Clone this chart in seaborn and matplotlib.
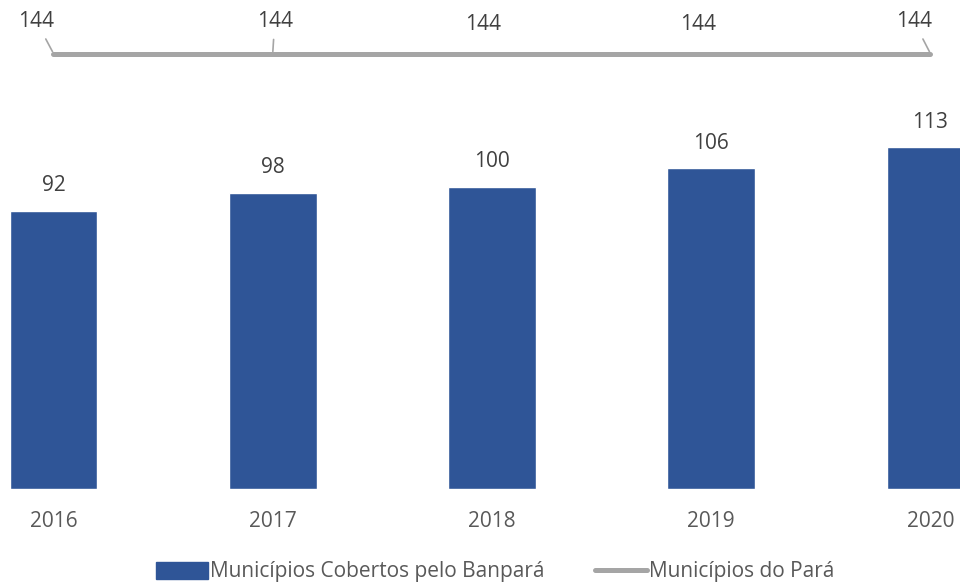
import matplotlib
matplotlib.use("Agg")
import matplotlib.pyplot as plt
import seaborn as sns
import numpy as np
import pandas as pd
from matplotlib.patches import Patch
from matplotlib.lines import Line2D

years = ["2016", "2017", "2018", "2019", "2020"]
cobertos = [92, 98, 100, 106, 113]
para = [144, 144, 144, 144, 144]
bar_label = "Municípios Cobertos pelo Banpará"
line_label = "Municípios do Pará"

BLUE = "#2F5597"
GRAY = "#A5A5A5"
TXT = "#404040"
FS = 15

sns.set_theme(style="white")
plt.rcParams["font.family"] = ["Open Sans", "DejaVu Sans"]

fig = plt.figure(figsize=(9.6, 5.83), dpi=100)
ax = fig.add_axes([0, 94 / 583, 1, 1 - 94 / 583])

df = pd.DataFrame({"ano": years, "v": cobertos})
sns.barplot(data=df, x="ano", y="v", color=BLUE, width=0.4, saturation=1, ax=ax)

xs = np.arange(len(years))
ax.plot(xs, para, color=GRAY, lw=3.6, solid_capstyle="round", zorder=3)

# bar labels
for x, v in zip(xs, cobertos):
    ax.annotate(str(v), (x, v), xytext=(0, 25), textcoords="offset pixels",
                ha="center", va="center", fontsize=FS, color=TXT)

# line labels (pixel offsets, leader lines on some)
offsets = [(-17, 32), (2, 32), (-8.5, 29), (-13.5, 29), (-16.5, 32)]
leaders = [True, True, False, False, True]
for x, v, (dx, dy), ld in zip(xs, para, offsets, leaders):
    kw = {}
    if ld:
        kw["arrowprops"] = dict(arrowstyle="-", color=GRAY, lw=1.2,
                                shrinkA=3, shrinkB=1.5)
    ax.annotate(str(v), (x, v), xytext=(dx, dy), textcoords="offset pixels",
                ha="center", va="center", fontsize=FS, color=TXT, **kw)

ax.set_xlim(-0.244, 4.135)
ax.set_ylim(0, 161.7)
ax.set_xlabel("")
ax.set_ylabel("")
ax.set_yticks([])
for s in ax.spines.values():
    s.set_visible(False)
ax.tick_params(axis="x", length=0, pad=16, labelsize=FS, labelcolor="#595959")

handles = [Patch(facecolor=BLUE, edgecolor=BLUE),
           Line2D([0], [0], color=GRAY, lw=3.6, solid_capstyle="round")]
fig.legend(handles, [bar_label, line_label], loc="center",
           bbox_to_anchor=(0.516, 0.019), ncol=2, frameon=False,
           fontsize=FS, labelcolor="#595959", handlelength=2.5,
           handleheight=0.85, handletextpad=0.1, columnspacing=2.4,
           borderpad=0, borderaxespad=0)

fig.savefig("out.png", dpi=100)
